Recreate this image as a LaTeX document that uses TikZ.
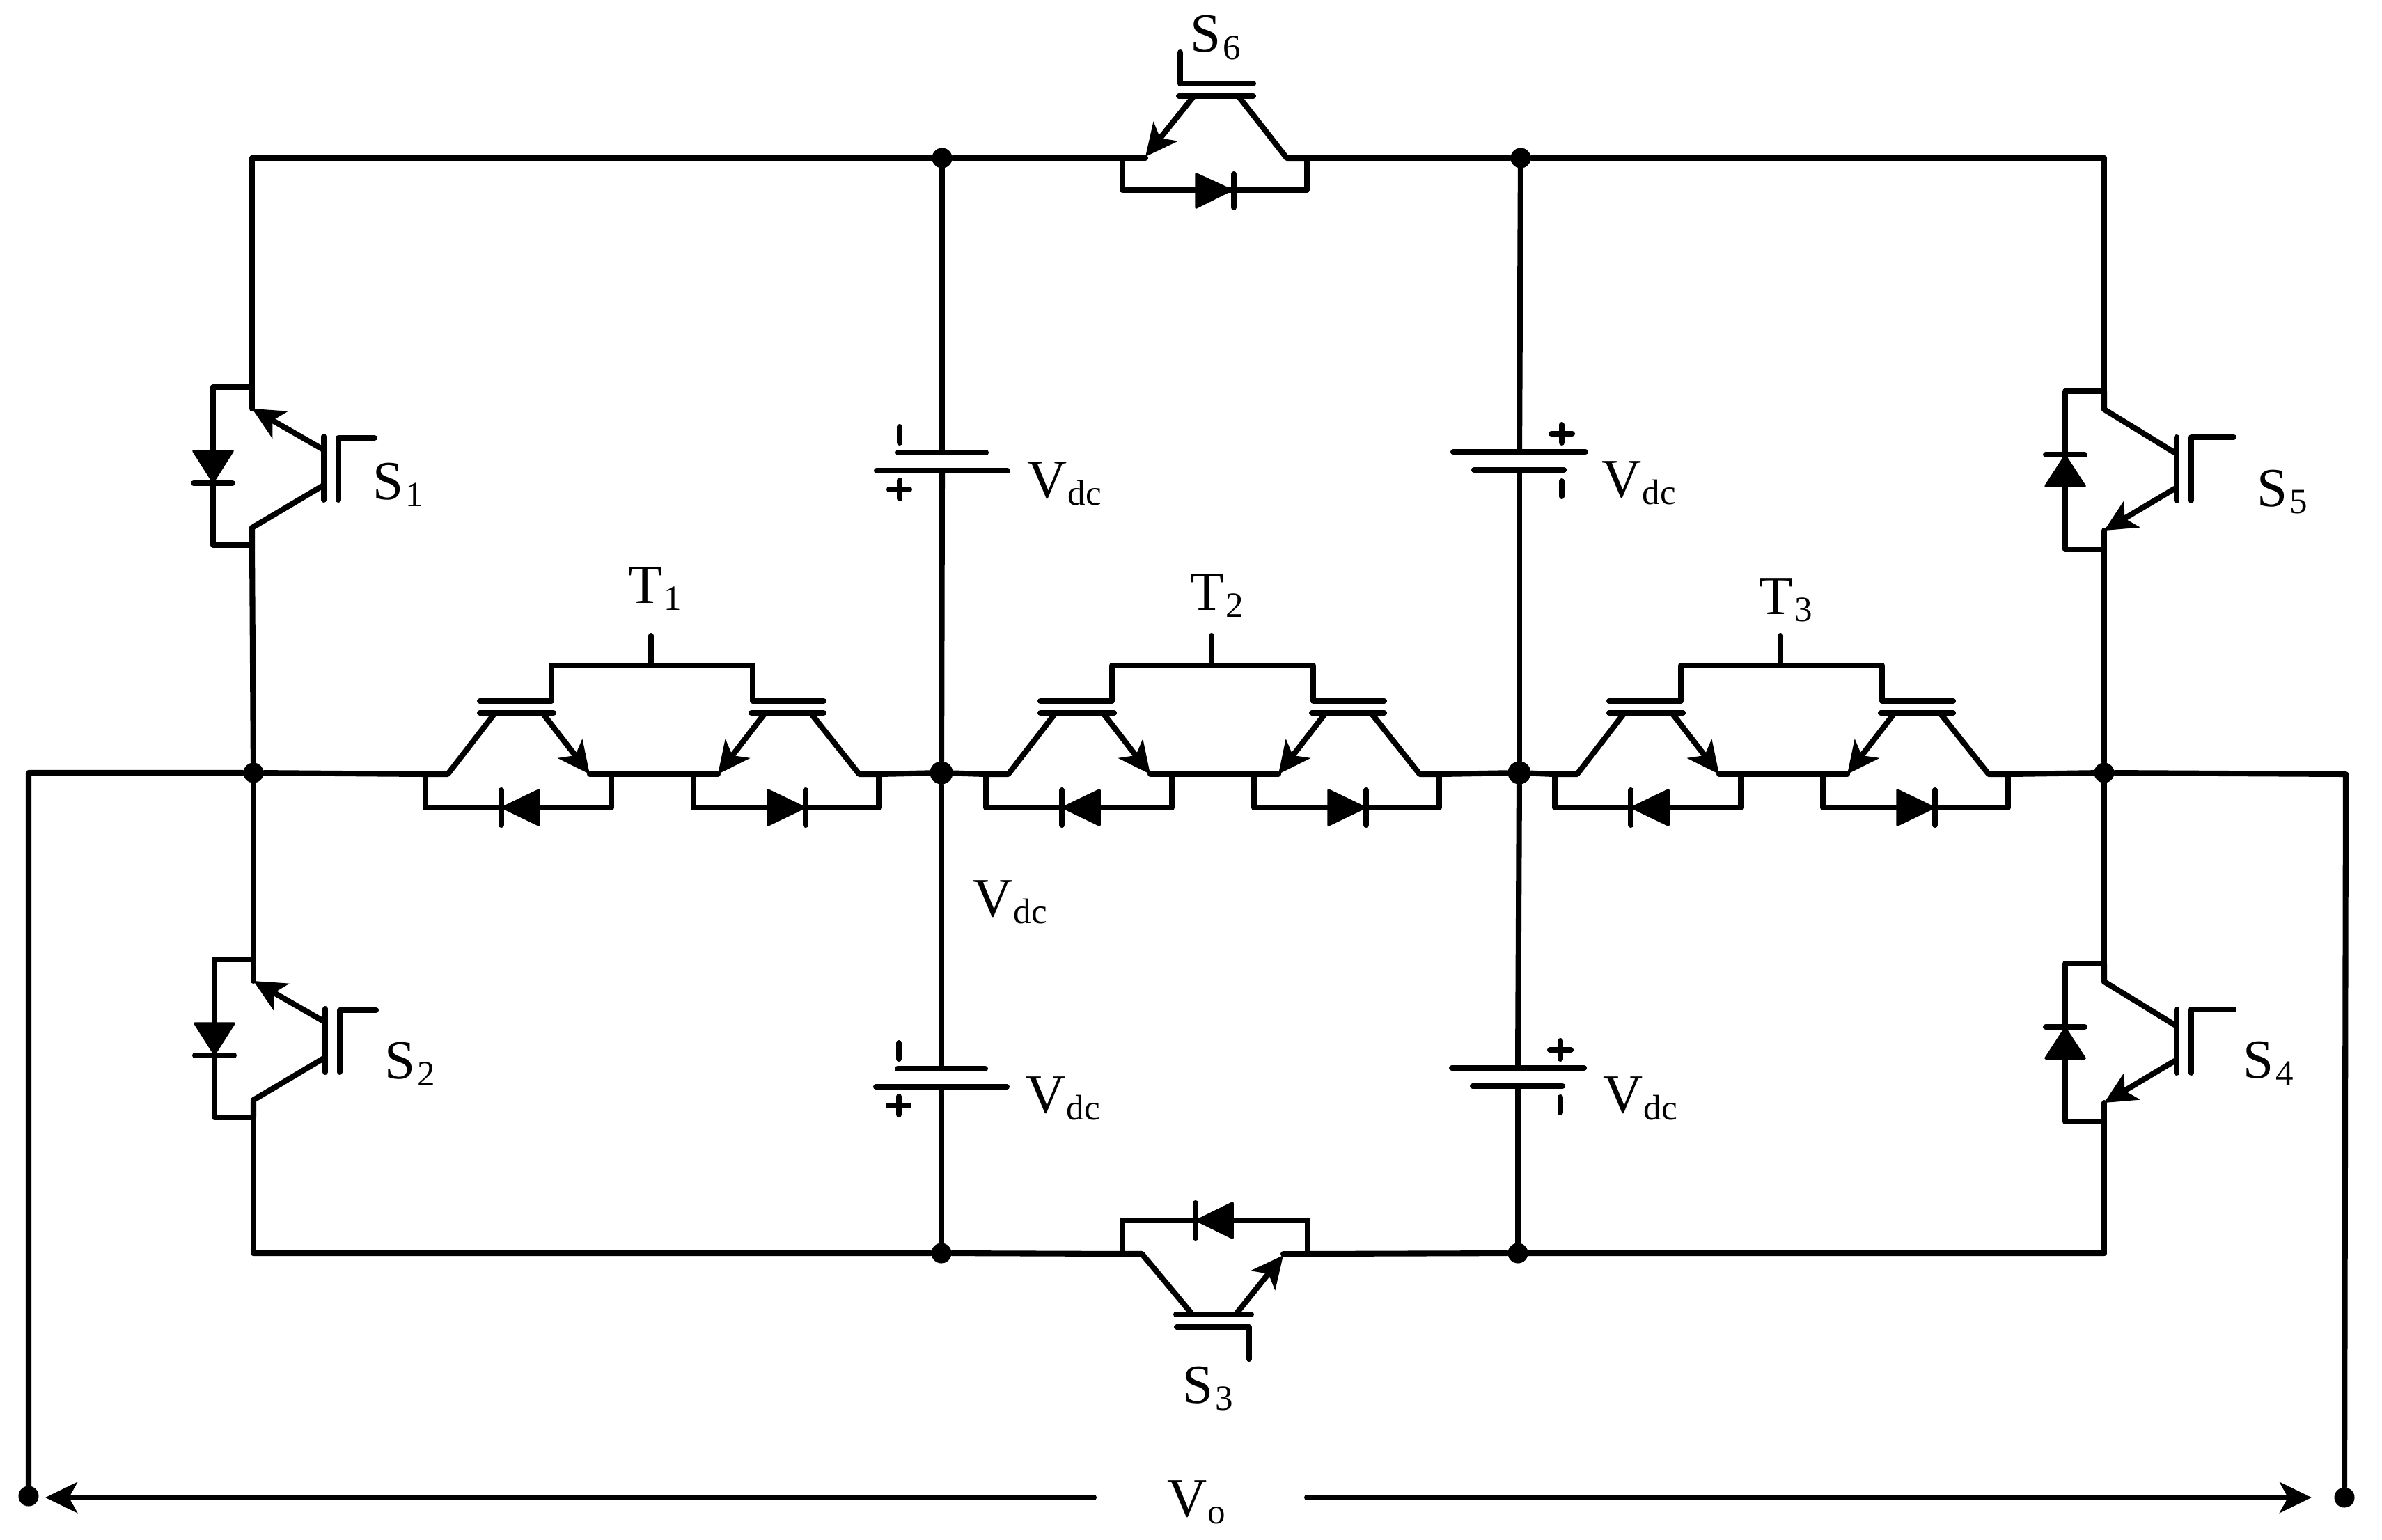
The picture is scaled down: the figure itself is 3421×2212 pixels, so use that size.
\documentclass[tikz,border=0pt]{standalone}
\usepackage{fontspec}
\setmainfont{Liberation Serif}
\usetikzlibrary{arrows.meta}
\tikzset{
  wire/.style={line width=2.3pt,line cap=round,line join=round,black},
  arrowline/.style={wire,-{Stealth[length=4.6mm,width=4.4mm,inset=1.2mm]}},
  dotnode/.style={circle,fill=black,inner sep=0pt,minimum size=0.29cm},
  bigdot/.style={circle,fill=black,inner sep=0pt,minimum size=0.33cm},
  labelnode/.style={anchor=base west,inner sep=0pt,outer sep=0pt},
  diodefill/.style={fill=black,draw=black,line width=1pt,line join=round}
}
\newcommand{\mainsub}[3]{{\fontsize{22.5}{24}\selectfont #1}\hspace{#3}\raisebox{-2.85pt}{\fontsize{14.5}{16}\selectfont #2}}
% switch with emitter towards the top, diode on the left
\newcommand{\swUp}[3]{\begin{scope}[shift={(#2,#3)}]
  \coordinate (#1t) at (0,0); \coordinate (#1b) at (0,227);
  \draw[wire] (#1t) -- (0,31);
  \draw[arrowline] (101,89) -- (0,31);
  \draw[wire] (101,142) -- (0,202) -- (#1b);
  \draw[wire] (#1t) -- (-56,0) -- (-56,227) -- (#1b);
  \draw[diodefill] (-84,92) -- (-28,92) -- (-56,136) -- cycle;
  \draw[wire] (-84,138) -- (-28,138);
  \draw[wire] (103,71) -- (103,162);
  \draw[wire] (124,162) -- (124,73) -- (176,73);
\end{scope}}
% switch with emitter towards the bottom, diode on the left
\newcommand{\swDown}[3]{\begin{scope}[shift={(#2,#3)}]
  \coordinate (#1t) at (0,0); \coordinate (#1b) at (0,227);
  \draw[wire] (#1t) -- (0,26) -- (101,88);
  \draw[arrowline] (101,140) -- (0,200);
  \draw[wire] (0,200) -- (#1b);
  \draw[wire] (#1t) -- (-56,0) -- (-56,227) -- (#1b);
  \draw[diodefill] (-84,136) -- (-28,136) -- (-56,93) -- cycle;
  \draw[wire] (-84,91) -- (-28,91);
  \draw[wire] (104,66) -- (104,157);
  \draw[wire] (125,157) -- (125,66) -- (186,66);
\end{scope}}
% bidirectional cell T
\newcommand{\tcell}[3]{\begin{scope}[shift={(#2,#3)}]
  \coordinate (#1l) at (611,1112); \coordinate (#1r) at (1262,1112);
  \draw[wire] (935,913) -- (935,956);
  \draw[wire] (689,1007) -- (792,1007) -- (792,956) -- (1081,956) -- (1081,1007) -- (1183,1007);
  \draw[wire] (689,1024) -- (795,1024);
  \draw[wire] (1079,1024) -- (1183,1024);
  \draw[wire] (#1l) -- (643,1112) -- (711,1024);
  \draw[arrowline] (779,1024) -- (847,1112);
  \draw[arrowline] (1099,1024) -- (1031,1112);
  \draw[wire] (847,1112) -- (1031,1112);
  \draw[wire] (1164,1024) -- (1234,1112) -- (#1r);
  \draw[wire] (#1l) -- (611,1160) -- (878,1160) -- (878,1112);
  \draw[wire] (996,1112) -- (996,1160) -- (1262,1160) -- (#1r);
  \draw[diodefill] (774,1135) -- (774,1185) -- (722,1160) -- cycle;
  \draw[wire] (720,1135) -- (720,1185);
  \draw[diodefill] (1103,1135) -- (1103,1185) -- (1155,1160) -- cycle;
  \draw[wire] (1157,1135) -- (1157,1185);
\end{scope}}
% battery with the short plate on top
\newcommand{\battA}[3]{\begin{scope}[shift={(#2,#3)}]
  \coordinate (#1t) at (0,0); \coordinate (#1b) at (0,26);
  \draw[wire] (-63,0) -- (63,0);
  \draw[wire] (-94,26) -- (94,26);
  \draw[wire] (-61,-37) -- (-61,-14);
  \draw[wire] (-76,53) -- (-47,53);
  \draw[wire] (-61,40) -- (-61,66);
\end{scope}}
% battery with the long plate on top
\newcommand{\battB}[3]{\begin{scope}[shift={(#2,#3)}]
  \coordinate (#1t) at (0,0); \coordinate (#1b) at (0,26);
  \draw[wire] (-95,0) -- (95,0);
  \draw[wire] (-65,26) -- (64,26);
  \draw[wire] (61,42) -- (61,64);
  \draw[wire] (46,-26) -- (76,-26);
  \draw[wire] (61,-39) -- (61,-13);
\end{scope}}
\begin{document}
\begin{tikzpicture}[x=0.01cm,y=-0.01cm]
\useasboundingbox (0,0) rectangle (3421,2212);

% junctions
\node[dotnode] (j1) at (1353,227) {};
\node[dotnode] (j2) at (2184,227) {};
\node[dotnode] (j3) at (364,1110) {};
\node[bigdot]  (j4) at (1352,1110) {};
\node[bigdot]  (j5) at (2182,1110) {};
\node[dotnode] (j6) at (3022,1110) {};
\node[dotnode] (j7) at (1352,1800) {};
\node[dotnode] (j8) at (2180,1800) {};
\node[dotnode] (termL) at (41,2149) {};
\node[dotnode] (termR) at (3367,2151) {};
\coordinate (cTL) at (362,227);
\coordinate (cTR) at (3022,227);
\coordinate (cBL) at (364,1800);
\coordinate (cBR) at (3022,1800);
\coordinate (cL) at (41,1110);
\coordinate (cR) at (3369,1112);

% side switches
\swUp{sA}{362}{556}
\swUp{sB}{364}{1378}
\swDown{sE}{3022}{562}
\swDown{sD}{3022}{1384}

% top switch S6
\coordinate (sFl) at (1612,227);
\coordinate (sFr) at (1877,227);
\draw[wire] (1695,75) -- (1695,120) -- (1800,120);
\draw[wire] (1693,138) -- (1800,138);
\draw[arrowline] (1713,140) -- (1645,225);
\draw[wire] (sFl) -- (1645,227);
\draw[wire] (1780,140) -- (1848,227) -- (sFr);
\draw[wire] (sFl) -- (1612,273) -- (1877,273) -- (sFr);
\draw[diodefill] (1718,250) -- (1718,298) -- (1768,273) -- cycle;
\draw[wire] (1772,250) -- (1772,298);

% bottom switch S3
\coordinate (sCl) at (1612,1801);
\coordinate (sCr) at (1878,1801);
\draw[wire] (1794,1952) -- (1794,1906) -- (1690,1906);
\draw[wire] (1689,1888) -- (1797,1888);
\draw[arrowline] (1777,1885) -- (1843,1803);
\draw[wire] (1843,1801) -- (sCr);
\draw[wire] (sCl) -- (1640,1801) -- (1710,1885);
\draw[wire] (sCl) -- (1612,1753) -- (1878,1753) -- (sCr);
\draw[diodefill] (1770,1728) -- (1770,1778) -- (1719,1753) -- cycle;
\draw[wire] (1717,1728) -- (1717,1778);

% T cells
\tcell{tA}{0}{0}
\tcell{tB}{805}{0}
\tcell{tC}{1622}{0}

% batteries
\battA{bA}{1353}{650}
\battB{bB}{2182}{649}
\battA{bC}{1352}{1535}
\battB{bD}{2180}{1534}

% wires
\draw[wire] (cTL) -- (j1) -- (sFl);
\draw[wire] (sFr) -- (j2) -- (cTR);
\draw[wire] (cBL) -- (j7) -- (sCl);
\draw[wire] (sCr) -- (j8) -- (cBR);
\draw[wire] (cTL) -- (sAt);
\draw[wire] (sAb) -- (j3);
\draw[wire] (j3) -- (sBt);
\draw[wire] (sBb) -- (cBL);
\draw[wire] (cTR) -- (sEt);
\draw[wire] (sEb) -- (j6);
\draw[wire] (j6) -- (sDt);
\draw[wire] (sDb) -- (cBR);
\draw[wire] (j1) -- (bAt);
\draw[wire] (bAb) -- (j4);
\draw[wire] (j4) -- (bCt);
\draw[wire] (bCb) -- (j7);
\draw[wire] (j2) -- (bBt);
\draw[wire] (bBb) -- (j5);
\draw[wire] (j5) -- (bDt);
\draw[wire] (bDb) -- (j8);
\draw[wire] (termL) -- (cL) -- (j3) -- (tAl);
\draw[wire] (tAr) -- (j4) -- (tBl);
\draw[wire] (tBr) -- (j5) -- (tCl);
\draw[wire] (tCr) -- (j6) -- (cR) -- (termR);

% output voltage arrows
\coordinate (vL) at (1571,2151);
\coordinate (vR) at (1877,2151);
\coordinate (tipL) at (65,2151);
\coordinate (tipR) at (3320,2151);
\draw[arrowline] (vL) -- (tipL);
\draw[arrowline] (vR) -- (tipR);

% labels
\node[labelnode] (lS1) at (535,717) {\mainsub{S}{1}{1pt}};
\node[labelnode] (lS2) at (552,1549) {\mainsub{S}{2}{1pt}};
\node[labelnode] (lS3) at (1698,2015) {\mainsub{S}{3}{1pt}};
\node[labelnode] (lS4) at (3221,1548) {\mainsub{S}{4}{1pt}};
\node[labelnode] (lS5) at (3241,727) {\mainsub{S}{5}{1pt}};
\node[labelnode] (lS6) at (1709,75) {\mainsub{S}{6}{1pt}};
\node[labelnode] (lT1) at (902,866) {\mainsub{T}{1}{1pt}};
\node[labelnode] (lT2) at (1709,876) {\mainsub{T}{2}{1pt}};
\node[labelnode] (lT3) at (2526,882) {\mainsub{T}{3}{1pt}};
\node[labelnode] (lV1) at (1475,715) {\mainsub{V}{dc}{0.5pt}};
\node[labelnode] (lV2) at (2300,714) {\mainsub{V}{dc}{0.5pt}};
\node[labelnode] (lV3) at (1397,1316) {\mainsub{V}{dc}{0.5pt}};
\node[labelnode] (lV4) at (1473,1598) {\mainsub{V}{dc}{0.5pt}};
\node[labelnode] (lV5) at (2302,1598) {\mainsub{V}{dc}{0.5pt}};
\node[labelnode] (lVo) at (1676,2178) {\mainsub{V}{o}{0.5pt}};
\end{tikzpicture}
\end{document}
